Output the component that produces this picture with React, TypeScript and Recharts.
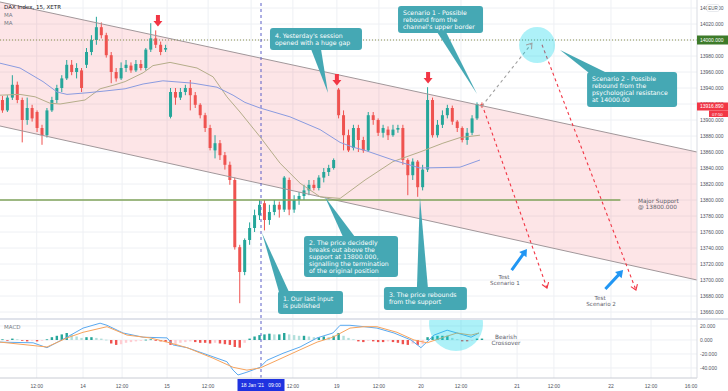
import React from "react";
import {
  ComposedChart,
  Bar,
  Line,
  Area,
  XAxis,
  YAxis,
  CartesianGrid,
  ReferenceLine,
  ReferenceDot,
} from "recharts";

// time axis is in 15-minute bar units, one candle every 30 minutes
const candleTimes = [
  1, 3, 5, 7, 9, 11, 13, 15, 17, 19, 21, 23, 25, 27, 29, 31, 33, 35, 37, 39,
  41, 43, 45, 47, 49, 51, 53, 55, 57, 59, 61, 63, 65, 67, 69, 71, 73, 75, 77, 79,
  81, 83, 85, 87, 89, 91, 93, 95, 97, 99, 101, 103, 105, 107, 109, 111, 113, 115, 117, 119,
  121, 123, 125, 127, 129, 131, 133, 135, 137, 139, 141, 143, 145, 147, 149, 151, 153, 155, 157, 159,
  161, 163, 165, 167, 169, 171, 173, 175, 177, 179, 181, 183, 185, 187, 189, 191, 193, 195,
];

const opens = [
  13925, 13912, 13928, 13944, 13925, 13900, 13915, 13910, 13890, 13881,
  13912, 13925, 13940, 13952, 13969, 13960, 13962, 13969, 13985, 14000,
  14016, 14006, 13981, 13960, 13952, 13965, 13968, 13962, 13970, 13965,
  13988, 14002, 13994, 13988, 13904, 13935, 13928, 13935, 13940, 13931,
  13919, 13906, 13890, 13862, 13871, 13856, 13844, 13825, 13741, 13710,
  13750, 13765, 13781, 13796, 13775, 13785, 13794, 13788, 13825, 13788,
  13800, 13805, 13812, 13819, 13815, 13828, 13835, 13840, 13938, 13906,
  13881, 13865, 13890, 13875, 13862, 13906, 13900, 13884, 13888, 13881,
  13888, 13890, 13850, 13831, 13848, 13816, 13838, 13925, 13881, 13894,
  13906, 13915, 13898, 13890, 13875, 13884, 13902, 13920,
];
const highs = [
  13930, 13931, 13956, 13948, 13928, 13928, 13919, 13912, 13894, 13915,
  13929, 13944, 13956, 13975, 13975, 13971, 13965, 13990, 14006, 14029,
  14022, 14009, 13985, 13965, 13972, 13975, 13972, 13975, 13975, 13990,
  14021, 14012, 13998, 13994, 13940, 13940, 13940, 13944, 13950, 13935,
  13921, 13909, 13894, 13881, 13875, 13860, 13848, 13828, 13744, 13752,
  13772, 13788, 13800, 13800, 13794, 13800, 13798, 13830, 13828, 13806,
  13810, 13819, 13825, 13825, 13831, 13840, 13844, 13852, 13940, 13912,
  13888, 13894, 13894, 13879, 13910, 13910, 13902, 13894, 13892, 13894,
  13894, 13894, 13852, 13852, 13850, 13844, 13941, 13928, 13900, 13912,
  13919, 13918, 13900, 13892, 13890, 13906, 13922, 13922,
];
const lows = [
  13909, 13910, 13925, 13921, 13872, 13894, 13898, 13885, 13869, 13878,
  13910, 13921, 13935, 13950, 13956, 13952, 13935, 13965, 13981, 13994,
  14002, 13978, 13946, 13948, 13950, 13960, 13959, 13960, 13962, 13962,
  13985, 13990, 13981, 13985, 13902, 13919, 13925, 13931, 13912, 13915,
  13902, 13885, 13862, 13852, 13850, 13838, 13819, 13738, 13671, 13706,
  13744, 13760, 13775, 13762, 13769, 13781, 13778, 13785, 13781, 13784,
  13794, 13800, 13806, 13812, 13812, 13822, 13830, 13838, 13902, 13862,
  13860, 13862, 13860, 13859, 13860, 13894, 13880, 13878, 13875, 13879,
  13884, 13844, 13806, 13825, 13804, 13812, 13835, 13878, 13878, 13890,
  13902, 13894, 13885, 13872, 13869, 13881, 13900, 13915,
];
const closes = [
  13912, 13928, 13944, 13925, 13900, 13915, 13902, 13890, 13881, 13912,
  13925, 13940, 13952, 13969, 13960, 13965, 13940, 13985, 14000, 14016,
  14006, 13981, 13960, 13952, 13965, 13969, 13962, 13970, 13965, 13988,
  14002, 13994, 13985, 13990, 13935, 13928, 13935, 13940, 13931, 13919,
  13906, 13890, 13865, 13871, 13856, 13844, 13825, 13741, 13710, 13750,
  13765, 13781, 13794, 13775, 13785, 13794, 13788, 13828, 13788, 13800,
  13805, 13812, 13819, 13815, 13828, 13835, 13840, 13850, 13906, 13881,
  13862, 13890, 13875, 13862, 13906, 13900, 13884, 13890, 13881, 13888,
  13890, 13850, 13831, 13848, 13816, 13838, 13925, 13881, 13894, 13906,
  13915, 13898, 13890, 13875, 13884, 13902, 13920, 13917,
];
const macdHist = [
  1, -1, 2, 1, -1, -2, -1, -2, -1, 1,
  4, 6, 8, 10, 8, 5, 3, 4, 4, 3,
  2, 0.5, -5, -7, -6, -4, -3, -2, -1, 0.5,
  1, -1, -2, -3, -7, -6, -4, -3, -2, -3,
  -4, -4, -5, -4, -5, -6, -7, -10, -11, -4,
  2, 5, 7, 8, 9, 8, 8, 10, 8, 7,
  6, 6, 5, 4, 4, 5, 4, 6, 10, 6,
  3, 1, -2, -3, -1, -2, -3, -3, -2, -3,
  -4, -6, -7, -5, -7, -6, 4, 5, 6, 6,
  6, 3, 1, -2, -2, -1, 2, 2,
];

// moving averages
const maFastT = [0, 8.1, 14.2, 20.2, 24.3, 34.4, 40.5, 46.5, 50.6, 57.9, 61.9, 68.8, 79.7, 86.2, 91.8, 97.1, 105.2, 113.3, 121.4, 129.5, 137.6, 147.7, 159, 169.9, 179.2, 186.1, 194.2];
const maFastV = [13931, 13932, 13929, 13921, 13920, 13925, 13939, 13944, 13948, 13959, 13968, 13972, 13965, 13954, 13929, 13910, 13879, 13846, 13821, 13804, 13802, 13825, 13848, 13860, 13871, 13878, 13881];
const maSlowT = [0, 8.1, 17.4, 23.1, 27.1, 35.2, 41.7, 50.6, 57.9, 65.9, 78.1, 87.8, 94.3, 99.1, 105.2, 117.3, 129.5, 137.6, 142.8, 147.7, 159, 169.9, 186.1, 194.2];
const maSlowV = [13971, 13965, 13948, 13935, 13932, 13934, 13936, 13939, 13945, 13949, 13946, 13941, 13931, 13922, 13915, 13904, 13888, 13872, 13866, 13862, 13850, 13840, 13841, 13850];

// MACD and signal lines
const macdT = [0, 13.4, 19, 27.1, 33.6, 40.5, 43.3, 49.8, 57.9, 67.6, 70, 75.7, 83.8, 91.8, 94.3, 96.3, 99.9, 105.2, 108, 114.5, 121.4, 128.3, 134.7, 137.6, 141.6, 147.3, 152.5, 159.4, 166.3, 170.3, 175.6, 180.9, 184.9, 190.6, 193.8];
const macdV = [-3, -4, -11, 4, 17, 24, 21, 10, 4, 3, -7, -11, -21, -31, -43, -50, -46, -39, -29, -19, -10, 3, 10, 21, 21, 19, 17, 10, 0, -11, 7, 14, 10, 4, 10];
const signalT = [0, 19, 27.1, 33.6, 43.3, 51.4, 60.7, 67.6, 75.7, 86.2, 94.3, 99.9, 105.2, 112.1, 121.4, 128.3, 134.7, 141.6, 147.3, 152.5, 160.6, 167.5, 172.8, 179.6, 184.9, 190.6, 193.8];
const signalV = [-3, -10, 3, 11, 19, 7, 3, -3, -11, -26, -39, -43, -40, -29, -14, -3, 4, 17, 19, 19, 11, 0, -4, 4, 10, 7, 10];

// descending channel
const channelT = [0, 282];
const channelUpper = [14047.5, 13860];
const channelLower = [13892.5, 13700];

// axes
const priceTicks = [13660, 13680, 13700, 13720, 13740, 13760, 13780, 13800, 13820, 13840, 13860, 13880, 13900, 13920, 13940, 13960, 13980, 14000, 14020, 14040];
const macdTicks = [20, 0, -20, -40];
const tickTimes = [14.85, 33.6, 49.4, 67.6, 84.2, 118.5, 136.3, 153.3, 170.3, 186.5, 209.2, 224.1, 247.2, 263.4, 279.6];
const tickLabels = ["12:00", "14", "12:00", "15", "12:00", "12:00", "19", "12:00", "20", "12:00", "21", "12:00", "22", "12:00", "16:00"];
const gridTimes = [14.85, 33.6, 49.4, 67.6, 84.2, 101.6, 118.5, 136.3, 153.3, 170.3, 186.5, 209.2, 224.1, 247.2, 263.4, 279.6];
const crossT = 105.6;
const lastPrice = 13916.89;
const resistance = 14000;
const support = 13800;
const supportEndT = 251;

const candles = candleTimes.map((t, i) => ({
  t,
  open: opens[i],
  high: highs[i],
  low: lows[i],
  close: closes[i],
  hist: macdHist[i],
  idx: i,
}));
const maFast = maFastT.map((t, i) => ({ t, v: maFastV[i] }));
const maSlow = maSlowT.map((t, i) => ({ t, v: maSlowV[i] }));
const macdLine = macdT.map((t, i) => ({ t, v: macdV[i] }));
const signalLine = signalT.map((t, i) => ({ t, v: signalV[i] }));
const channelUp = channelT.map((t, i) => ({ t, v: channelUpper[i] }));
const channelLo = channelT.map((t, i) => ({ t, v: channelLower[i] }));
const channelBand = channelT.map((t, i) => ({ t, band: [channelLower[i], channelUpper[i]] }));

const callouts = [
  { t: 132.7, p: 13933.75, box: [-58, -65, 92, 22], tail: [-17, -7], lines: ["4. Yesterday's session", "opened with a huge gap"] },
  { t: 193, p: 13932.5, box: [-79, -88, 85, 27], tail: [-40, -31], lines: ["Scenario 1 - Possible", "rebound from the", "channel's upper border"] },
  { t: 226.6, p: 13987.5, box: [27, 22, 90, 35], tail: [29, 47], lines: ["Scenario 2 - Possible", "rebound from the", "psychological resistance", "at 14000.00"] },
  { t: 131.5, p: 13803.75, box: [-21, 39, 94, 41], tail: [18, 30], lines: ["2. The price decidedly", "breaks out above the", "support at 13800.000,", "signalling the termination", "of the original position"] },
  { t: 106, p: 13758.75, box: [16, 58, 65, 23], tail: [17, 27], lines: ["1. Our last input", "is published"] },
  { t: 169.9, p: 13803.75, box: [-36, 90, 83, 23], tail: [-3, 8], lines: ["3. The price rebounds", "from the support"] },
];

const projections = [
  { from: [195, 13917.5], to: [215.2, 13996], color: "#a0a0a0", angle: -51.6 },
  { from: [195.8, 13912.5], to: [221.3, 13690], color: "#f23645", angle: 70.4 },
  { from: [219.3, 13994], to: [257.3, 13687.5], color: "#f23645", angle: 69 },
];
const gapArrows = [
  { t: 63.9, p: 14023.75 },
  { t: 136.3, p: 13950 },
  { t: 173.2, p: 13952.5 },
];
const testArrows = [
  { t: 213.2, p: 13738.75, angle: -54, label: "Scenario 1" },
  { t: 252.1, p: 13712.5, angle: -47, label: "Scenario 2" },
];

const TEAL = "#45a8b4";
const FONT = "'DejaVu Sans', sans-serif";
const AXIS_FONT = "'Liberation Sans', Arial, sans-serif";
const AXIS_COLOR = "#50535e";
const GRID = "#eef0f4";

function Candle(props: any) {
  const { x, y, width, height, payload } = props;
  if (x == null || !payload) return null;
  const { open, close, high, low } = payload;
  const color = close >= open ? "#26a69a" : "#ef5350";
  const k = height / (high - low);
  const cx = x + width / 2;
  const top = y + (high - Math.max(open, close)) * k;
  const bh = Math.max(1, Math.abs(open - close) * k);
  return (
    <g>
      <line x1={cx} x2={cx} y1={y} y2={y + height} stroke={color} strokeWidth={1} />
      <rect x={cx - 1.5} y={top} width={3} height={bh} fill={color} />
    </g>
  );
}

function histColor(i: number) {
  const v = macdHist[i];
  const prev = i > 0 ? macdHist[i - 1] : 0;
  if (v >= 0) return v >= prev ? "#26a69a" : "#b2dfdb";
  return v <= prev ? "#ef5350" : "#ffcdd2";
}

function HistBar(props: any) {
  const { x, y, width, height, payload } = props;
  if (x == null || !payload) return null;
  const top = height < 0 ? y + height : y;
  const h = Math.max(0.8, Math.abs(height));
  const cx = x + width / 2;
  return <rect x={cx - 1.2} y={top} width={2.4} height={h} fill={histColor(payload.idx)} />;
}

function PriceTick(props: any) {
  const { x, y, payload } = props;
  const v = payload.value;
  const txt = (label: string, fill: string) => (
    <text x={x} y={y} dy={1.8} fontSize={5} fontFamily={AXIS_FONT} fill={fill}>
      {label}
    </text>
  );
  if (v === resistance) {
    return (
      <g>
        <rect x={x - 3} y={y - 4.5} width={31} height={9} fill="#3d7b2a" />
        {txt(v.toFixed(3), "#fff")}
      </g>
    );
  }
  if (v === lastPrice) {
    return (
      <g>
        <rect x={x - 3} y={y - 4} width={31} height={8} fill="#f23645" />
        {txt(v.toFixed(3), "#fff")}
        <rect x={x + 9} y={y + 4} width={19} height={6.5} fill="#f23645" />
        <text x={x + 12} y={y + 7.6} dy={1.5} fontSize={4.3} fontFamily={AXIS_FONT} fill="#fff">
          07:50
        </text>
      </g>
    );
  }
  if (v === 14040) {
    return (
      <g>
        {txt(v.toFixed(3), AXIS_COLOR)}
        <rect x={x + 7} y={y - 3.5} width={12} height={7} rx={1.5} fill="#fff" stroke="#d1d4dc" strokeWidth={0.5} />
        <text x={x + 13} y={y} dy={1.6} fontSize={4.5} textAnchor="middle" fontFamily={AXIS_FONT} fill={AXIS_COLOR}>
          EUR
        </text>
      </g>
    );
  }
  return txt(v.toFixed(3), AXIS_COLOR);
}

function MacdTick(props: any) {
  const { x, y, payload } = props;
  return (
    <text x={x} y={y} dy={1.8} fontSize={5} fontFamily={AXIS_FONT} fill={AXIS_COLOR}>
      {payload.value.toFixed(3)}
    </text>
  );
}

function TimeTick(props: any) {
  const { x, y, payload } = props;
  const v = payload.value;
  if (v === crossT) {
    return (
      <g>
        <rect x={x - 23.5} y={y + 1} width={47} height={12} fill="#1f33e0" />
        <text x={x - 8.5} y={y + 9.2} textAnchor="middle" fontSize={5} fontFamily={AXIS_FONT} fill="#fff">
          18 Jan '21
        </text>
        <text x={x + 13.5} y={y + 9.2} textAnchor="middle" fontSize={5} fontFamily={AXIS_FONT} fill="#fff">
          09:00
        </text>
      </g>
    );
  }
  return (
    <text x={x} y={y + 9.5} textAnchor="middle" fontSize={5} fontFamily={AXIS_FONT} fill={AXIS_COLOR}>
      {tickLabels[tickTimes.indexOf(v)]}
    </text>
  );
}

function Callout({ cx, cy, c }: any) {
  const [bx, by, bw, bh] = c.box;
  const edge = by > 0 ? by + 1 : by + bh - 1;
  const lh = 7;
  const mid = cy + by + bh / 2;
  const first = mid - ((c.lines.length - 1) * lh) / 2;
  return (
    <g>
      <path d={`M${cx + c.tail[0]},${cy + edge} L${cx},${cy} L${cx + c.tail[1]},${cy + edge} Z`} fill={TEAL} />
      <rect x={cx + bx} y={cy + by} width={bw} height={bh} rx={3} fill={TEAL} />
      {c.lines.map((s: string, i: number) => (
        <text key={i} x={cx + bx + 5} y={first + i * lh} dy={2.2} fontSize={6.2} fontFamily={FONT} fill="#fff">
          {s}
        </text>
      ))}
    </g>
  );
}

function DownArrow({ cx, cy }: any) {
  return (
    <path
      d={`M${cx - 2},${cy - 6} L${cx + 2},${cy - 6} L${cx + 2},${cy} L${cx + 4.5},${cy} L${cx},${cy + 5.5} L${cx - 4.5},${cy} L${cx - 2},${cy} Z`}
      fill="#f23645"
    />
  );
}

function Chevron({ cx, cy, angle, color }: any) {
  return (
    <path
      d="M-5,-3.5 L0,0 L-5,3.5"
      transform={`translate(${cx},${cy}) rotate(${angle})`}
      fill="none"
      stroke={color}
      strokeWidth={1.1}
    />
  );
}

function TestArrow({ cx, cy, angle, label }: any) {
  return (
    <g>
      <path
        d="M-26,-1.5 L-7,-1.5 L-7,-4.5 L0,0 L-7,4.5 L-7,1.5 L-26,1.5 Z"
        transform={`translate(${cx},${cy}) rotate(${angle})`}
        fill="#2196f3"
      />
      <text x={cx - 23} y={cy + 29.5} textAnchor="middle" fontSize={5.6} fontFamily={FONT} fill="#5d606b">
        Test
      </text>
      <text x={cx - 22} y={cy + 36} textAnchor="middle" fontSize={5.6} fontFamily={FONT} fill="#5d606b">
        {label}
      </text>
    </g>
  );
}

export default function App() {
  return (
    <div style={{ position: "fixed", left: 0, top: 0, width: 728, height: 391, background: "#fff", overflow: "hidden" }}>
      <div style={{ position: "absolute", left: 0, top: 0 }}>
        <ComposedChart width={728} height={318} data={candles} margin={{ top: 0, right: 0, bottom: 0, left: 0 }}>
          <CartesianGrid stroke={GRID} verticalValues={gridTimes} horizontalValues={priceTicks} />
          <XAxis dataKey="t" type="number" domain={[0, 282]} allowDataOverflow hide />
          <YAxis
            orientation="right"
            width={31}
            domain={[13652.5, 14050]}
            allowDataOverflow
            ticks={[...priceTicks, lastPrice]}
            interval={0}
            tick={<PriceTick />}
            tickSize={0}
            tickMargin={3}
            tickLine={false}
            axisLine={{ stroke: "#d9dce3" }}
          />
          <Area
            data={channelBand}
            dataKey="band"
            stroke="none"
            fill="#f23645"
            fillOpacity={0.13}
            isAnimationActive={false}
          />
          <Line data={channelUp} dataKey="v" stroke="#a1979a" strokeWidth={1} dot={false} isAnimationActive={false} />
          <Line data={channelLo} dataKey="v" stroke="#a1979a" strokeWidth={1} dot={false} isAnimationActive={false} />
          <ReferenceLine y={resistance} stroke="#8c9350" strokeDasharray="1 2" />
          <ReferenceLine
            segment={[
              { x: 0, y: support },
              { x: supportEndT, y: support },
            ]}
            stroke="#7fa35a"
            strokeWidth={1.5}
          />
          <ReferenceLine x={crossT} stroke="#5b5fc7" strokeDasharray="3 3" />
          <Line data={maFast} dataKey="v" stroke="#b5ad8a" strokeWidth={1} dot={false} isAnimationActive={false} />
          <Line data={maSlow} dataKey="v" stroke="#8a9be0" strokeWidth={1} dot={false} isAnimationActive={false} />
          <Bar
            dataKey={(d: any) => [d.low, d.high]}
            barSize={3}
            shape={(p: any) => <Candle {...p} />}
            isAnimationActive={false}
          />
          <ReferenceDot
            x={217.3}
            y={13993.75}
            shape={(p: any) => <circle cx={p.cx} cy={p.cy} r={18} fill="#00d4e8" fillOpacity={0.32} />}
          />
          {projections.map((s, i) => (
            <ReferenceLine
              key={"pl" + i}
              segment={[
                { x: s.from[0], y: s.from[1] },
                { x: s.to[0], y: s.to[1] },
              ]}
              stroke={s.color}
              strokeWidth={1.1}
              strokeDasharray="3 3"
            />
          ))}
          {projections.map((s, i) => (
            <ReferenceDot
              key={"ph" + i}
              x={s.to[0]}
              y={s.to[1]}
              shape={(p: any) => <Chevron cx={p.cx} cy={p.cy} angle={s.angle} color={s.color} />}
            />
          ))}
          {gapArrows.map((a, i) => (
            <ReferenceDot key={"ga" + i} x={a.t} y={a.p} shape={(p: any) => <DownArrow cx={p.cx} cy={p.cy} />} />
          ))}
          <ReferenceDot
            x={258.1}
            y={support}
            shape={(p: any) => (
              <g>
                <text x={p.cx} y={p.cy + 3} fontSize={5.8} fontFamily={FONT} fill="#5d606b">
                  Major Support
                </text>
                <text x={p.cx} y={p.cy + 9} fontSize={5.8} fontFamily={FONT} fill="#5d606b">
                  @ 13800.000
                </text>
              </g>
            )}
          />
          {testArrows.map((a, i) => (
            <ReferenceDot
              key={"ta" + i}
              x={a.t}
              y={a.p}
              shape={(p: any) => <TestArrow cx={p.cx} cy={p.cy} angle={a.angle} label={a.label} />}
            />
          ))}
          {callouts.map((c, i) => (
            <ReferenceDot key={"co" + i} x={c.t} y={c.p} shape={(p: any) => <Callout cx={p.cx} cy={p.cy} c={c} />} />
          ))}
        </ComposedChart>
      </div>

      <div style={{ position: "absolute", left: 0, top: 318, width: 728, height: 2, background: "#e0e3eb" }} />

      <div style={{ position: "absolute", left: 0, top: 320 }}>
        <ComposedChart width={728} height={71} data={candles} margin={{ top: 0, right: 0, bottom: 0, left: 0 }}>
          <CartesianGrid stroke={GRID} verticalValues={gridTimes} horizontalValues={macdTicks} />
          <XAxis
            dataKey="t"
            type="number"
            domain={[0, 282]}
            allowDataOverflow
            ticks={[...tickTimes, crossT]}
            interval={0}
            height={13}
            tick={<TimeTick />}
            tickSize={0}
            tickMargin={0}
            tickLine={false}
            axisLine={{ stroke: "#c9ccd4" }}
          />
          <YAxis
            orientation="right"
            width={31}
            domain={[-54.29, 28.57]}
            allowDataOverflow
            ticks={macdTicks}
            interval={0}
            tick={<MacdTick />}
            tickSize={0}
            tickMargin={3}
            tickLine={false}
            axisLine={{ stroke: "#d9dce3" }}
          />
          <ReferenceDot
            x={184.5}
            y={22.9}
            ifOverflow="hidden"
            shape={(p: any) => <circle cx={p.cx} cy={p.cy} r={27} fill="#00d4e8" fillOpacity={0.32} />}
          />
          <ReferenceLine x={crossT} stroke="#5b5fc7" strokeDasharray="3 3" />
          <Bar dataKey="hist" barSize={3} shape={(p: any) => <HistBar {...p} />} isAnimationActive={false} />
          <Line data={macdLine} dataKey="v" stroke="#5aa9f0" strokeWidth={1} dot={false} isAnimationActive={false} />
          <Line data={signalLine} dataKey="v" stroke="#f7a35c" strokeWidth={1} dot={false} isAnimationActive={false} />
          <ReferenceDot
            x={204.7}
            y={0}
            shape={(p: any) => (
              <g>
                <text x={p.cx} y={p.cy - 0.5} textAnchor="middle" fontSize={5.8} fontFamily={FONT} fill="#5d606b">
                  Bearish
                </text>
                <text x={p.cx} y={p.cy + 5.5} textAnchor="middle" fontSize={5.8} fontFamily={FONT} fill="#5d606b">
                  Crossover
                </text>
              </g>
            )}
          />
        </ComposedChart>
      </div>

      <div style={{ position: "absolute", left: 4, top: 3, fontFamily: FONT, fontSize: 5.5, lineHeight: "8px" }}>
        <div style={{ color: "#131722" }}>DAX Index, 15, XETR</div>
        <div style={{ color: "#787b86" }}>MA</div>
        <div style={{ color: "#787b86" }}>MA</div>
      </div>
      <div style={{ position: "absolute", left: 4, top: 324, fontFamily: FONT, fontSize: 5.5, color: "#787b86" }}>MACD</div>
    </div>
  );
}
